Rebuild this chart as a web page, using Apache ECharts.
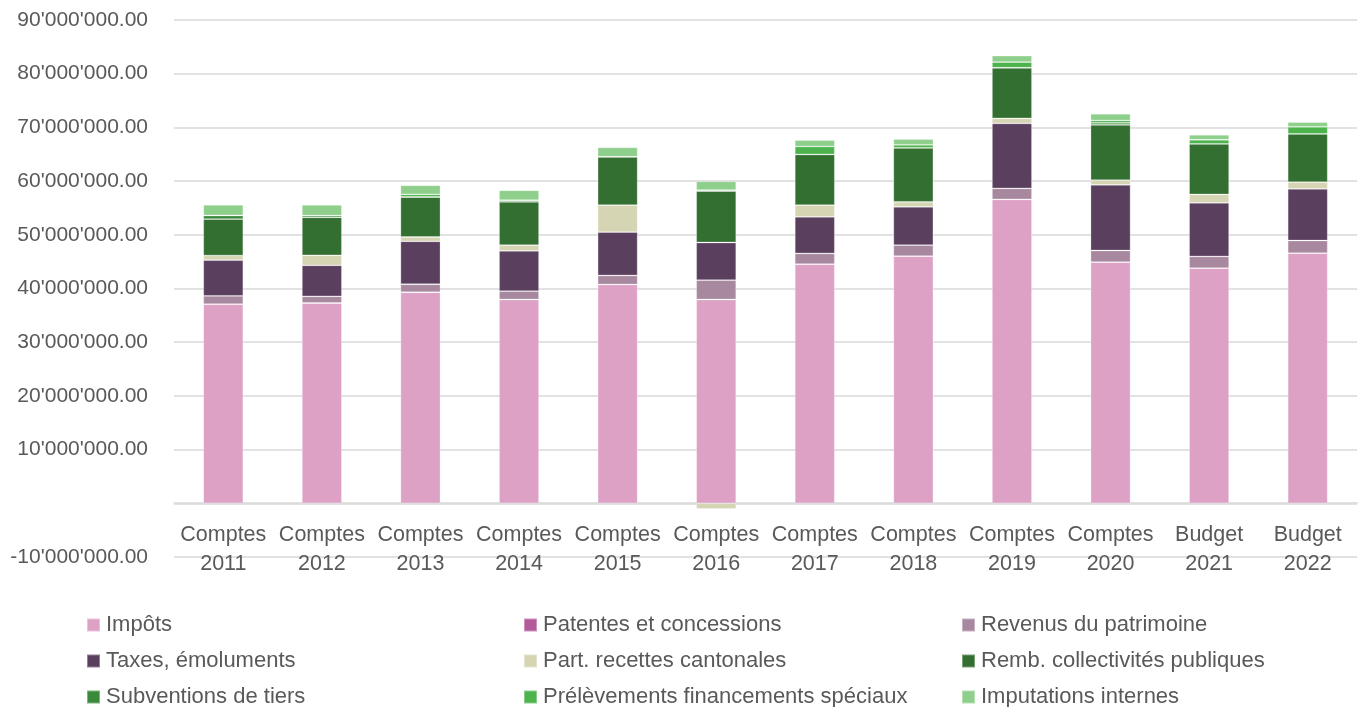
<!DOCTYPE html>
<html>
<head>
<meta charset="utf-8">
<script src="https://cdn.jsdelivr.net/npm/echarts@6/dist/echarts.min.js"></script>
<style>
html,body{margin:0;padding:0;background:#fff;}
#chart{width:1368px;height:707px;}
</style>
</head>
<body>
<div id="chart"></div>
<script>
// values in millions (CHF)
const categories = ['Comptes\n2011','Comptes\n2012','Comptes\n2013','Comptes\n2014','Comptes\n2015','Comptes\n2016','Comptes\n2017','Comptes\n2018','Comptes\n2019','Comptes\n2020','Budget\n2021','Budget\n2022'];
const impots       = [37.08, 37.30, 39.30, 37.95, 40.75, 37.95, 44.53, 46.02, 56.59, 44.90, 43.79, 46.58];
const patentes     = [0, 0, 0, 0, 0, 0, 0, 0, 0, 0, 0, 0];
const revenus      = [1.55, 1.24, 1.49, 1.55, 1.68, 3.60, 2.00, 2.05, 2.05, 2.18, 2.18, 2.36];
const taxes        = [6.65, 5.78, 8.00, 7.50, 8.07, 7.02, 6.82, 7.14, 12.11, 12.22, 9.99, 9.61];
const partCant     = [0.86, 1.86, 0.80, 1.06, 5.03, -1.05, 2.17, 0.93, 0.93, 0.87, 1.56, 1.25];
const remb         = [6.78, 7.08, 7.45, 8.07, 9.00, 9.56, 9.44, 10.06, 9.43, 10.30, 9.43, 9.00];
const subventions  = [0.67, 0.30, 0, 0.30, 0, 0.20, 0, 0, 0, 0.37, 0, 0];
const prelevements = [0, 0, 0.50, 0, 0, 0, 1.49, 0.56, 1.06, 0.45, 0.75, 1.30];
const imputations  = [2.00, 2.00, 1.68, 1.86, 1.75, 1.62, 1.18, 1.06, 1.18, 1.24, 0.93, 0.88];
const seriesNames = ['Impôts','Patentes et concessions','Revenus du patrimoine','Taxes, émoluments','Part. recettes cantonales','Remb. collectivités publiques','Subventions de tiers','Prélèvements financements spéciaux','Imputations internes'];
const seriesData = [impots, patentes, revenus, taxes, partCant, remb, subventions, prelevements, imputations];
const colors = ['#dea1c6','#b35a9b','#a8889f','#5a3f5e','#d5d4b3','#336f31','#3b8a3b','#4db34d','#8ecf8b'];
const UNIT = 1e6;

function fmt(v){
  if (v === 0) return '';
  const neg = v < 0;
  const s = Math.round(Math.abs(v)).toString().replace(/\B(?=(\d{3})+(?!\d))/g, "'");
  return (neg ? '-' : '') + s + '.00';
}

const FONT = '"Liberation Sans", Arial, sans-serif';
const TXT = '#595959';

const chart = echarts.init(document.getElementById('chart'));
const colX = [86, 523, 961];
const rowTop = [614, 650, 686];
const legends = seriesNames.map((name, i) => ({
  left: colX[i % 3], top: rowTop[Math.floor(i / 3)],
  data: [name], itemWidth: 13, itemHeight: 13, icon: 'rect',
  selectedMode: false, padding: 0,
  textStyle: { color: TXT, fontSize: 22, fontFamily: FONT, lineHeight: 20, padding: [0,0,0,1] }
}));
chart.setOption({
  animation: false,
  color: colors,
  grid: { left: 174, right: 11, top: 20, bottom: 150, containLabel: false },
  legend: legends,
  xAxis: {
    type: 'category', data: categories, position: 'bottom', offset: -54,
    axisLine: { onZero: false, lineStyle: { color: '#d9d9d9', width: 1.5 } },
    axisTick: { show: false },
    axisLabel: { color: TXT, fontSize: 21.5, fontFamily: FONT, lineHeight: 29, margin: 18, interval: 0 }
  },
  yAxis: {
    type: 'value', min: -10 * UNIT, max: 90 * UNIT, interval: 10 * UNIT,
    axisLine: { show: false }, axisTick: { show: false },
    splitLine: { lineStyle: { color: '#d9d9d9', width: 1.5 } },
    axisLabel: { color: TXT, fontSize: 21, fontFamily: FONT, margin: 26, formatter: fmt }
  },
  series: seriesNames.map((name, i) => ({
    name, type: 'bar', stack: 'total', barWidth: 40,
    itemStyle: { color: colors[i], borderColor: 'rgba(255,255,255,0.35)', borderWidth: 0.8 },
    data: seriesData[i].map(v => v * UNIT)
  }))
});
</script>
</body>
</html>
